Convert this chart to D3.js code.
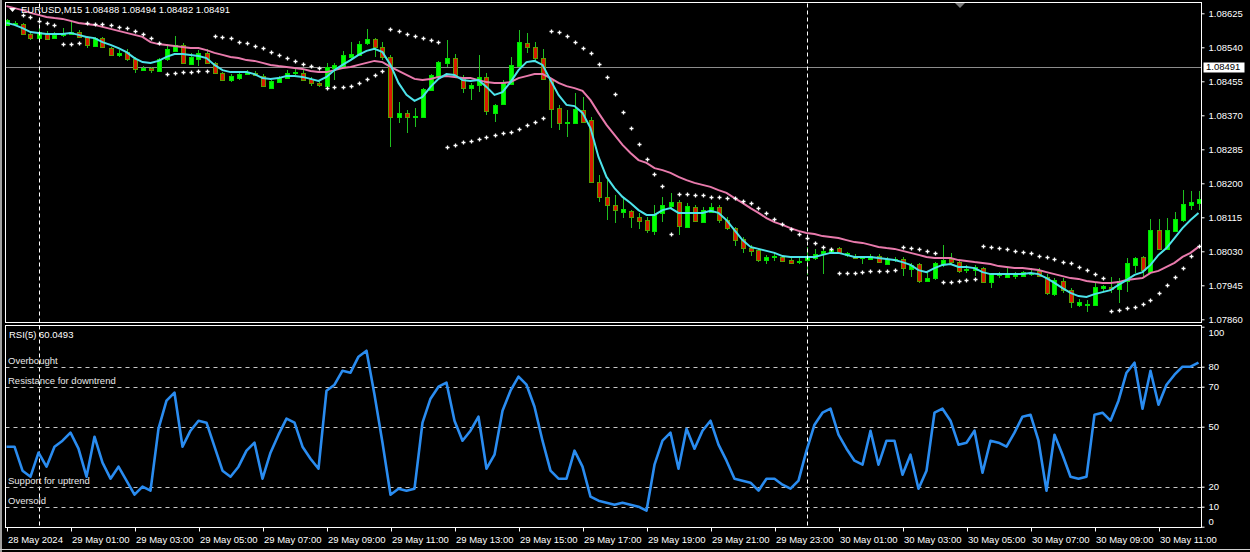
<!DOCTYPE html>
<html><head><meta charset="utf-8">
<script src="https://cdn.jsdelivr.net/npm/d3@7"></script>
<style>
body{margin:0;background:#000;}
svg{display:block;}
text{font-family:"Liberation Sans",Arial,sans-serif;font-size:9.5px;fill:#fff;}
</style>
</head><body>
<svg id="c" width="1250" height="552"></svg>
<script>
// ---------------- DATA ----------------
const symbolTitle = "EURUSD,M15  1.08488 1.08494 1.08482 1.08491";
const rsiTitle = "RSI(5) 60.0493";
const startTime = new Date(2024, 4, 28, 23, 0); // first bar: 28 May 23:00, M15 bars
const bidPrice = 1.08491;

const open = [1.08596,1.08598,1.08598,1.08573,1.08563,1.08576,1.08563,1.08571,1.08573,1.08578,
1.08566,1.08543,1.08563,1.08538,1.08521,1.08528,1.08511,1.08483,1.08488,1.08481,
1.08511,1.08531,1.08546,1.08498,1.08511,1.08526,1.08501,1.08476,1.08458,1.08463,
1.08473,1.08476,1.08468,1.08438,1.08453,1.08463,1.08476,1.08476,1.08461,1.08451,
1.08443,1.08488,1.08491,1.08516,1.08521,1.08551,1.08561,1.08541,1.08516,1.08366,
1.08376,1.08366,1.08366,1.08433,1.08468,1.08501,1.08513,1.08466,1.08438,1.08446,
1.08466,1.08376,1.08398,1.08448,1.08493,1.08551,1.08541,1.08513,1.08461,1.08388,
1.08351,1.08351,1.08383,1.08358,1.08203,1.08166,1.08146,1.08128,1.08131,1.08116,
1.08108,1.08081,1.08126,1.08143,1.08153,1.08091,1.08141,1.08103,1.08128,1.08141,
1.08108,1.08088,1.08061,1.08038,1.08033,1.08008,1.08016,1.08016,1.08008,1.08003,
1.08008,1.08013,1.08026,1.08028,1.08038,1.08021,1.08018,1.08013,1.08011,1.08018,
1.07998,1.08008,1.08011,1.07986,1.07998,1.07956,1.07963,1.07998,1.08011,1.08003,
1.07983,1.07983,1.07988,1.07953,1.07971,1.07966,1.07968,1.07968,1.07973,1.07981,
1.07966,1.07923,1.07956,1.07933,1.07896,1.07896,1.07896,1.07938,1.07941,1.07936,
1.07956,1.07996,1.08016,1.07978,1.08083,1.08036,1.08081,1.08108,1.08146,1.08151];

const high = [1.08611,1.08606,1.08601,1.08576,1.08591,1.08581,1.08578,1.08588,1.08603,1.08583,
1.08568,1.08566,1.08566,1.08541,1.08533,1.08536,1.08516,1.08493,1.08491,1.08513,
1.08548,1.08568,1.08551,1.08526,1.08533,1.08536,1.08503,1.08478,1.08473,1.08476,
1.08483,1.08481,1.08473,1.08458,1.08468,1.08483,1.08486,1.08483,1.08466,1.08456,
1.08501,1.08501,1.08531,1.08553,1.08556,1.08586,1.08563,1.08553,1.08521,1.08403,
1.08383,1.08388,1.08438,1.08473,1.08506,1.08558,1.08523,1.08471,1.08451,1.08521,
1.08476,1.08398,1.08458,1.08516,1.08583,1.08576,1.08553,1.08536,1.08463,1.08396,
1.08383,1.08426,1.08416,1.08366,1.08221,1.08208,1.08171,1.08166,1.08133,1.08126,
1.08116,1.08146,1.08166,1.08176,1.08158,1.08151,1.08146,1.08141,1.08151,1.08146,
1.08116,1.08091,1.08066,1.08046,1.08038,1.08021,1.08028,1.08018,1.08013,1.08013,
1.08041,1.08036,1.08041,1.08038,1.08041,1.08028,1.08023,1.08018,1.08023,1.08023,
1.08016,1.08016,1.08016,1.08001,1.08001,1.07978,1.08003,1.08046,1.08026,1.08008,
1.07996,1.07996,1.07991,1.07976,1.07978,1.07991,1.07978,1.07981,1.07988,1.07988,
1.07973,1.07963,1.07963,1.07938,1.07911,1.07908,1.07951,1.07946,1.07966,1.07963,
1.08013,1.08016,1.08018,1.08111,1.08111,1.08113,1.08128,1.08183,1.08181,1.08181];

const low = [1.08593,1.08593,1.08571,1.08558,1.08561,1.08558,1.08561,1.08566,1.08571,1.08566,
1.08538,1.08541,1.08541,1.08518,1.08516,1.08506,1.08476,1.08481,1.08476,1.08481,
1.08506,1.08528,1.08498,1.08496,1.08493,1.08498,1.08473,1.08456,1.08453,1.08458,
1.08471,1.08468,1.08441,1.08436,1.08451,1.08461,1.08471,1.08456,1.08443,1.08441,
1.08441,1.08458,1.08488,1.08511,1.08518,1.08546,1.08516,1.08508,1.08291,1.08351,
1.08326,1.08341,1.08363,1.08431,1.08466,1.08491,1.08466,1.08426,1.08408,1.08428,
1.08371,1.08353,1.08396,1.08446,1.08491,1.08526,1.08503,1.08458,1.08338,1.08333,
1.08316,1.08348,1.08351,1.08201,1.08153,1.08108,1.08101,1.08113,1.08088,1.08086,
1.08076,1.08071,1.08103,1.08138,1.08071,1.08088,1.08103,1.08101,1.08126,1.08101,
1.08083,1.08043,1.08026,1.08018,1.08003,1.07998,1.08006,1.08003,1.07998,1.07998,
1.07971,1.08008,1.07973,1.08026,1.08023,1.08016,1.08011,1.07998,1.08008,1.08001,
1.07996,1.08003,1.07968,1.07966,1.07951,1.07953,1.07958,1.07991,1.07996,1.07976,
1.07976,1.07968,1.07951,1.07938,1.07963,1.07963,1.07961,1.07966,1.07968,1.07966,
1.07921,1.07918,1.07926,1.07888,1.07891,1.07878,1.07893,1.07928,1.07926,1.07901,
1.07928,1.07976,1.07963,1.07976,1.08033,1.08033,1.08078,1.08103,1.08133,1.08133];

const close = [1.08608,1.08601,1.08573,1.08563,1.08578,1.08561,1.08571,1.08576,1.08578,1.08566,
1.08546,1.08563,1.08541,1.08521,1.08526,1.08511,1.08486,1.08488,1.08483,1.08511,
1.08536,1.08546,1.08501,1.08516,1.08526,1.08501,1.08476,1.08458,1.08468,1.08473,
1.08478,1.08471,1.08443,1.08456,1.08463,1.08476,1.08478,1.08458,1.08451,1.08446,
1.08491,1.08496,1.08521,1.08523,1.08548,1.08561,1.08541,1.08516,1.08366,1.08376,
1.08366,1.08368,1.08436,1.08471,1.08503,1.08513,1.08468,1.08438,1.08446,1.08466,
1.08381,1.08396,1.08451,1.08496,1.08553,1.08541,1.08513,1.08461,1.08386,1.08351,
1.08353,1.08386,1.08353,1.08203,1.08166,1.08146,1.08133,1.08136,1.08116,1.08106,
1.08083,1.08123,1.08146,1.08153,1.08093,1.08143,1.08106,1.08133,1.08141,1.08108,
1.08088,1.08058,1.08038,1.08031,1.08008,1.08016,1.08018,1.08006,1.08001,1.08006,
1.08016,1.08023,1.08031,1.08033,1.08026,1.08026,1.08013,1.08016,1.08018,1.08003,
1.08011,1.08011,1.07988,1.07996,1.07956,1.07963,1.08001,1.08008,1.08003,1.07981,
1.07986,1.07991,1.07953,1.07973,1.07976,1.07973,1.07973,1.07978,1.07976,1.07968,
1.07926,1.07958,1.07933,1.07903,1.07903,1.07898,1.07941,1.07943,1.07936,1.07956,
1.08001,1.08013,1.07983,1.08083,1.08036,1.08083,1.08111,1.08148,1.08153,1.08161];

const maFast = [1.08601,1.08596,1.08588,1.08578,1.08576,1.08573,1.08573,1.08573,1.08576,1.08571,
1.08566,1.08563,1.08553,1.08546,1.08538,1.08528,1.08513,1.08503,1.08501,1.08506,
1.08516,1.08523,1.08523,1.08521,1.08518,1.08513,1.08496,1.08483,1.08478,1.08478,
1.08478,1.08473,1.08463,1.08461,1.08463,1.08468,1.08468,1.08466,1.08461,1.08456,
1.08466,1.08483,1.08496,1.08508,1.08521,1.08531,1.08536,1.08528,1.08496,1.08451,
1.08421,1.08406,1.08416,1.08441,1.08461,1.08473,1.08471,1.08458,1.08456,1.08458,
1.08441,1.08421,1.08428,1.08453,1.08483,1.08503,1.08506,1.08496,1.08458,1.08421,
1.08396,1.08393,1.08376,1.08338,1.08266,1.08216,1.08188,1.08166,1.08151,1.08133,
1.08121,1.08121,1.08133,1.08138,1.08126,1.08126,1.08126,1.08126,1.08131,1.08126,
1.08108,1.08083,1.08058,1.08041,1.08036,1.08031,1.08026,1.08018,1.08016,1.08016,
1.08016,1.08016,1.08021,1.08026,1.08026,1.08021,1.08016,1.08016,1.08016,1.08013,
1.08011,1.08008,1.08003,1.07996,1.07983,1.07978,1.07988,1.07996,1.07998,1.07991,
1.07991,1.07988,1.07978,1.07973,1.07973,1.07973,1.07973,1.07973,1.07976,1.07973,
1.07963,1.07951,1.07938,1.07926,1.07918,1.07916,1.07923,1.07928,1.07933,1.07946,
1.07958,1.07971,1.07978,1.07996,1.08021,1.08038,1.08063,1.08088,1.08108,1.08126];

const maSlow = [1.08643,1.08638,1.08633,1.08626,1.08621,1.08616,1.08613,1.08611,1.08606,1.08601,
1.08598,1.08596,1.08591,1.08586,1.08581,1.08576,1.08571,1.08566,1.08553,1.08548,
1.08546,1.08543,1.08541,1.08538,1.08538,1.08533,1.08526,1.08521,1.08516,1.08513,
1.08508,1.08506,1.08501,1.08496,1.08493,1.08491,1.08488,1.08486,1.08481,1.08478,
1.08478,1.08483,1.08488,1.08491,1.08496,1.08501,1.08506,1.08503,1.08491,1.08481,
1.08471,1.08461,1.08458,1.08461,1.08466,1.08468,1.08466,1.08463,1.08463,1.08458,
1.08453,1.08451,1.08451,1.08453,1.08463,1.08468,1.08473,1.08473,1.08463,1.08451,
1.08443,1.08438,1.08431,1.08408,1.08376,1.08346,1.08321,1.08296,1.08276,1.08258,
1.08251,1.08238,1.08233,1.08226,1.08216,1.08208,1.08201,1.08196,1.08191,1.08183,
1.08176,1.08163,1.08151,1.08138,1.08126,1.08113,1.08103,1.08096,1.08088,1.08081,
1.08076,1.08073,1.08068,1.08066,1.08063,1.08058,1.08053,1.08051,1.08046,1.08041,
1.08038,1.08036,1.08031,1.08026,1.08021,1.08016,1.08013,1.08013,1.08013,1.08008,
1.08006,1.08003,1.08001,1.07998,1.07993,1.07991,1.07988,1.07988,1.07986,1.07983,
1.07978,1.07973,1.07968,1.07963,1.07961,1.07956,1.07953,1.07951,1.07951,1.07953,
1.07958,1.07961,1.07963,1.07976,1.07981,1.07991,1.08001,1.08016,1.08026,1.08041];

const sar = [null,null,1.08621,1.08616,1.08606,1.08601,1.08596,1.08548,1.08548,1.08551,
1.08601,1.08598,1.08598,1.08596,1.08591,1.08588,1.08581,1.08573,1.08563,1.08551,
1.08473,1.08476,1.08478,1.08478,1.08481,1.08481,1.08568,1.08566,1.08563,1.08553,
1.08551,1.08543,1.08538,1.08528,1.08521,1.08513,1.08506,1.08498,1.08493,1.08488,
1.08438,1.08441,1.08441,1.08443,1.08451,1.08461,1.08471,1.08481,1.08586,1.08581,
1.08573,1.08568,1.08563,1.08558,1.08553,1.08291,1.08296,1.08303,1.08306,1.08311,
1.08316,1.08321,1.08326,1.08328,1.08336,1.08346,1.08353,1.08363,1.08581,1.08578,
1.08568,1.08553,1.08538,1.08526,1.08498,1.08466,1.08423,1.08378,1.08338,1.08298,
1.08261,1.08223,1.08193,1.08073,1.08173,1.08173,1.08171,1.08171,1.08166,1.08166,
1.08163,1.08163,1.08156,1.08151,1.08138,1.08126,1.08111,1.08098,1.08086,1.08073,
1.08063,1.08051,1.08041,1.08036,1.07976,1.07976,1.07976,1.07978,1.07981,1.07981,
1.07981,1.07983,1.08041,1.08038,1.08036,1.08031,1.08026,1.07953,1.07953,1.07956,
1.07958,1.07961,1.08043,1.08041,1.08038,1.08036,1.08031,1.08028,1.08026,1.08018,
1.08016,1.08011,1.08003,1.08001,1.07991,1.07983,1.07973,1.07963,1.07881,1.07883,
1.07888,1.07891,1.07898,1.07908,1.07926,1.07946,1.07966,1.07988,1.08018,1.08043];

const rsi = [40,40,28,25,37,30,40,43,47,39,
25,45,32,24,30,23,16,20,18,49,
63,67,40,48,53,52,40,28,25,30,
38,42,24,37,46,54,52,40,34,29,
68,71,78,77,85,88,66,42,16,19,
18,19,52,64,70,72,53,43,48,55,
29,36,58,68,75,71,60,43,28,24,
24,38,30,15,13,12,11,12,11,10,
8,31,43,47,29,49,39,48,53,41,
33,24,23,22,18,24,24,21,19,23,
38,51,57,59,46,39,33,31,48,31,
43,43,26,36,19,28,57,59,53,41,
42,48,27,43,42,40,47,55,56,43,
18,46,36,25,24,25,56,57,53,63,
77,82,59,78,61,71,76,80,80,82];

const priceTicks = [1.08625,1.08540,1.08455,1.08370,1.08285,1.08200,1.08115,1.08030,1.07945,1.07860];
const rsiTicks = [100,80,70,50,20,10,0];
const rsiLevels = [80,70,50,20,10];
const rsiLevelLabels = [
  {level:80, text:"Overbought"},
  {level:70, text:"Resistance for downtrend"},
  {level:20, text:"Support for uptrend"},
  {level:10, text:"Oversold"}
];
const timeTickLabels = ["28 May 2024","29 May 01:00","29 May 03:00","29 May 05:00","29 May 07:00",
 "29 May 09:00","29 May 11:00","29 May 13:00","29 May 15:00","29 May 17:00","29 May 19:00",
 "29 May 21:00","29 May 23:00","30 May 01:00","30 May 03:00","30 May 05:00","30 May 07:00",
 "30 May 09:00","30 May 11:00"];
const daySeparators = [new Date(2024,4,29,0,0), new Date(2024,4,30,0,0)];

// ---------------- LAYOUT ----------------
const N = close.length;
const times = d3.range(N).map(i => d3.timeMinute.offset(startTime, 15 * i));
const bars = times.map((t, i) => ({t, o: open[i], h: high[i], l: low[i], c: close[i]}));
const tickTimes = d3.range(0, N, 8).map(i => times[i]);

const PL = 5.5, PR = 1201.5, MT = 2.5, MB = 322.5, RT = 325.5, RB = 527.5;

const x = d3.scaleTime().domain([times[0], times[N - 1]]).range([6.5, 6.5 + 8 * (N - 1)]);
const y = d3.scaleLinear().domain([1.07860, 1.08625]).range([319.3, 13.3]);
const yr = d3.scaleLinear().domain([0, 100]).range([526.7, 326.7]);

const svg = d3.select("#c");
svg.append("rect").attr("width", 1250).attr("height", 552).attr("fill", "#000");
svg.append("rect").attr("x", 0).attr("y", 0).attr("width", 2).attr("height", 552).attr("fill", "#a0a0a0");

const defs = svg.append("defs");
defs.append("clipPath").attr("id", "clipMain").append("rect")
  .attr("x", PL + 0.5).attr("y", MT + 0.5).attr("width", PR - PL - 1).attr("height", MB - MT - 1);
defs.append("clipPath").attr("id", "clipRsi").append("rect")
  .attr("x", PL + 0.5).attr("y", RT + 0.5).attr("width", PR - PL - 1).attr("height", RB - RT - 1);

// ----- main panel -----
const gMain = svg.append("g").attr("clip-path", "url(#clipMain)");

// bid line
gMain.append("line").attr("x1", PL).attr("x2", PR)
  .attr("y1", Math.round(y(bidPrice)) + 0.5).attr("y2", Math.round(y(bidPrice)) + 0.5)
  .attr("stroke", "#8c8c8c").attr("stroke-width", 1);

// day separators (both panels)
daySeparators.forEach(d => {
  const xs = Math.round(x(d)) + 0.5;
  svg.append("line").attr("x1", xs).attr("x2", xs).attr("y1", MT + 1).attr("y2", RB)
    .attr("stroke", "#fff").attr("stroke-width", 1).attr("stroke-dasharray", "4,3");
});

// candles
const cg = gMain.append("g").attr("shape-rendering", "crispEdges");
cg.selectAll("line.wick").data(bars).join("line").attr("class", "wick")
  .attr("x1", d => Math.round(x(d.t)) + 0.5).attr("x2", d => Math.round(x(d.t)) + 0.5)
  .attr("y1", d => y(d.h)).attr("y2", d => y(d.l))
  .attr("stroke", "#1fc01f").attr("stroke-width", 1);
cg.selectAll("rect.body").data(bars).join("rect").attr("class", "body")
  .attr("x", d => Math.round(x(d.t)) - 1.5)
  .attr("width", 4)
  .attr("y", d => Math.round(y(Math.max(d.o, d.c))) + 0.5)
  .attr("height", d => Math.max(1, Math.round(Math.abs(y(d.o) - y(d.c)))))
  .attr("fill", d => d.c >= d.o ? "#00ff00" : "#d81a00")
  .attr("stroke", d => d.c >= d.o ? "#00e000" : "#5c9e00")
  .attr("stroke-width", 1);

// moving averages
const lineGen = arr => d3.line().x((d, i) => x(times[i])).y(d => y(d))(arr);
gMain.append("path").attr("d", lineGen(maSlow)).attr("fill", "none")
  .attr("stroke", "#e87aac").attr("stroke-width", 2);
gMain.append("path").attr("d", lineGen(maFast)).attr("fill", "none")
  .attr("stroke", "#4de3ea").attr("stroke-width", 2);

// parabolic SAR
const sarPts = sar.map((v, i) => ({t: times[i], v})).filter(d => d.v != null);
gMain.selectAll("path.sar").data(sarPts).join("path").attr("class", "sar")
  .attr("transform", d => `translate(${Math.round(x(d.t)) + 0.5},${Math.round(y(d.v)) + 0.5})`)
  .attr("d", "M-2,0H2M0,-2V2").attr("stroke", "#fff").attr("stroke-width", 1.3);

// header
svg.append("path").attr("d", "M9,8 L16,8 L12.5,12 Z").attr("fill", "#fff");
svg.append("text").attr("x", 21).attr("y", 13).text(symbolTitle);
// chart shift marker
svg.append("path").attr("d", "M955,3 L965,3 L960,8 Z").attr("fill", "#7a7a7a");

// panel borders
svg.append("rect").attr("x", PL).attr("y", MT).attr("width", PR - PL).attr("height", MB - MT)
  .attr("fill", "none").attr("stroke", "#fff").attr("stroke-width", 1);
svg.append("rect").attr("x", PL).attr("y", RT).attr("width", PR - PL).attr("height", RB - RT)
  .attr("fill", "none").attr("stroke", "#fff").attr("stroke-width", 1);

// price axis
const pAxis = svg.append("g").attr("transform", `translate(${PR},0)`)
  .call(d3.axisRight(y).tickValues(priceTicks).tickFormat(d3.format(".5f")).tickSize(3).tickPadding(4));
pAxis.select(".domain").remove();
pAxis.selectAll("line").attr("stroke", "#fff");
pAxis.selectAll("text").attr("fill", "#fff").attr("font-family", "Liberation Sans, Arial, sans-serif").attr("font-size", "9.5px");

// bid label
const by = y(bidPrice);
svg.append("rect").attr("x", 1203.5).attr("y", Math.round(by) - 4.5).attr("width", 41).attr("height", 10)
  .attr("fill", "#fff");
svg.append("text").attr("x", 1206).attr("y", by).attr("dy", "0.34em").style("fill", "#000").text(d3.format(".5f")(bidPrice));

// ----- RSI panel -----
const gR = svg.append("g").attr("clip-path", "url(#clipRsi)");
gR.selectAll("line.lvl").data(rsiLevels).join("line").attr("class", "lvl")
  .attr("x1", PL).attr("x2", PR)
  .attr("y1", d => Math.round(yr(d)) + 0.5).attr("y2", d => Math.round(yr(d)) + 0.5)
  .attr("stroke", "#c8c8c8").attr("stroke-width", 1).attr("stroke-dasharray", "4,4");
gR.append("path")
  .attr("d", d3.line().x((d, i) => x(times[i])).y(d => yr(d))(rsi))
  .attr("fill", "none").attr("stroke", "#2a8cf0").attr("stroke-width", 2.6)
  .attr("stroke-linejoin", "round");

svg.append("text").attr("x", 9).attr("y", 337.5).text(rsiTitle);
svg.selectAll("text.lvlLabel").data(rsiLevelLabels).join("text").attr("class", "lvlLabel")
  .attr("x", 8).attr("y", d => yr(d.level) - 2.5).style("fill", "#e8e8e8").text(d => d.text);

const rAxis = svg.append("g").attr("transform", `translate(${PR},0)`)
  .call(d3.axisRight(yr).tickValues(rsiTicks).tickFormat(d3.format("d")).tickSize(3).tickPadding(4));
rAxis.select(".domain").remove();
rAxis.selectAll("line").attr("stroke", "#fff");
rAxis.selectAll("text").attr("fill", "#fff").attr("font-family", "Liberation Sans, Arial, sans-serif").attr("font-size", "9.5px")
  .attr("dy", d => d === 100 ? "0.95em" : d === 0 ? "-0.25em" : "0.32em");

// ----- time axis -----
const tAxis = svg.append("g").attr("transform", `translate(0,${RB})`)
  .call(d3.axisBottom(x).tickValues(tickTimes).tickFormat((d, i) => timeTickLabels[i]).tickSize(4));
tAxis.select(".domain").remove();
tAxis.selectAll("line").attr("stroke", "#fff").attr("transform", "translate(0.5,0)");
tAxis.selectAll("text").attr("fill", "#fff").attr("text-anchor", "start").attr("x", 1)
  .attr("y", 9).attr("dy", "0.71em")
  .attr("font-family", "Liberation Sans, Arial, sans-serif").attr("font-size", "9.5px");
svg.append("line").attr("x1", 0).attr("x2", 1250).attr("y1", 549.5).attr("y2", 549.5)
  .attr("stroke", "#d0d0d0").attr("stroke-width", 1);
</script>
</body></html>
